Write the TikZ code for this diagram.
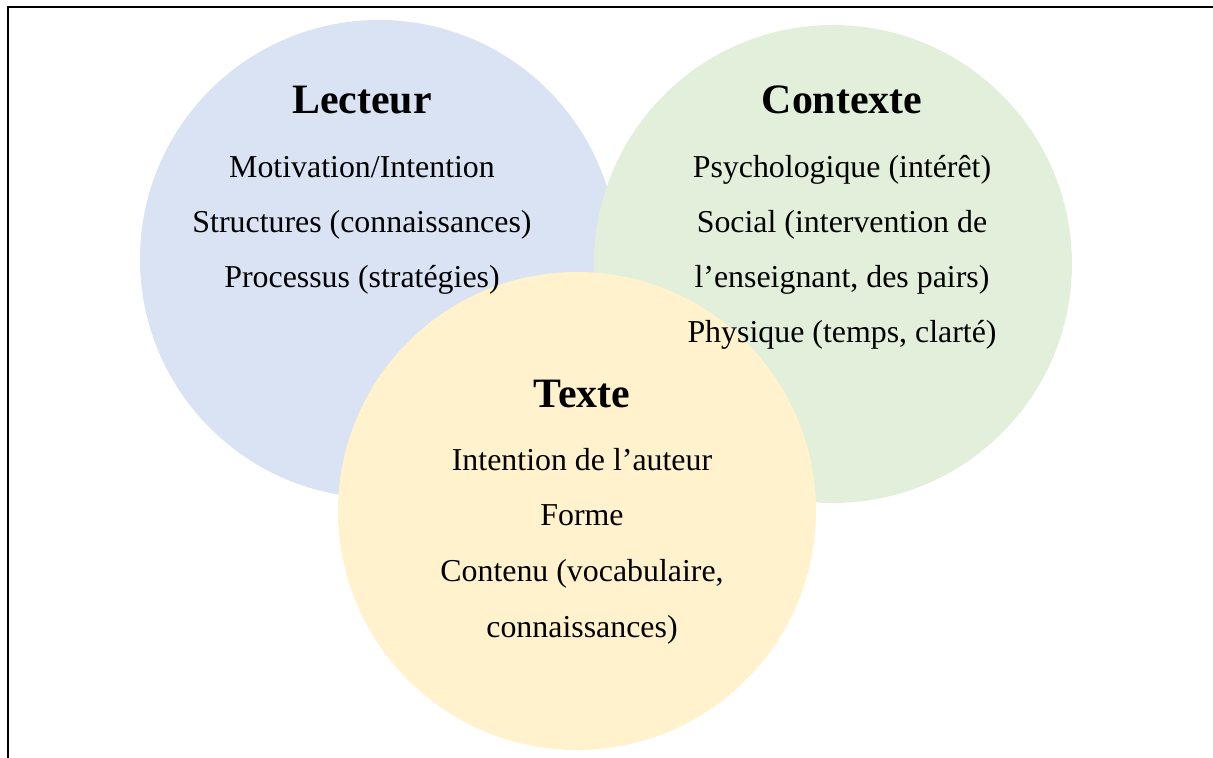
\documentclass[tikz,border=0pt]{standalone}
\usepackage{fontspec}
\setmainfont{Liberation Serif}
\definecolor{lecblue}{HTML}{DAE3F3}
\definecolor{congreen}{HTML}{E2EFDA}
\definecolor{texyellow}{HTML}{FFF2CC}
\tikzset{
  disc/.style={circle, minimum size=478bp, inner sep=0pt, draw=none},
  titletxt/.style={anchor=base, inner sep=0pt, font=\fontsize{42}{48}\selectfont\bfseries},
  bodytxt/.style={anchor=base, inner sep=0pt, font=\fontsize{32}{36}\selectfont},
  frameline/.style={line width=2.5bp, black}
}
\begin{document}
\begin{tikzpicture}[x=1bp, y=-1bp]
\useasboundingbox (0,0) rectangle (1213,758);
% circles
\node[disc, fill=lecblue] (lec) at (379,259) {};
\node[disc, fill=congreen] (con) at (833,264) {};
\node[disc, fill=texyellow] (tex) at (577,511) {};
% frame
\coordinate (fb) at (8,758);
\coordinate (fc) at (8,7);
\coordinate (fr) at (1213,7);
\draw[frameline] (fb) -- (fc) -- (fr);
% Lecteur
\node[titletxt] (lt) at (362,114) {Lecteur};
\node[bodytxt] (l1) at (362,177) {Motivation/Intention};
\node[bodytxt] (l2) at (362,232) {Structures (connaissances)};
\node[bodytxt] (l3) at (362,287) {Processus (stratégies)};
% Contexte
\node[titletxt] (ct) at (842,114) {Contexte};
\node[bodytxt] (c1) at (842,177) {Psychologique (intérêt)};
\node[bodytxt] (c2) at (842,232) {Social (intervention de};
\node[bodytxt] (c3) at (842,287) {l’enseignant, des pairs)};
\node[bodytxt] (c4) at (842,342) {Physique (temps, clarté)};
% Texte
\node[titletxt] (tt) at (582,407) {Texte};
\node[bodytxt] (t1) at (582,470) {Intention de l’auteur};
\node[bodytxt] (t2) at (582,525) {Forme};
\node[bodytxt] (t3) at (582,581) {Contenu (vocabulaire,};
\node[bodytxt] (t4) at (582,637) {connaissances)};
\end{tikzpicture}
\end{document}
